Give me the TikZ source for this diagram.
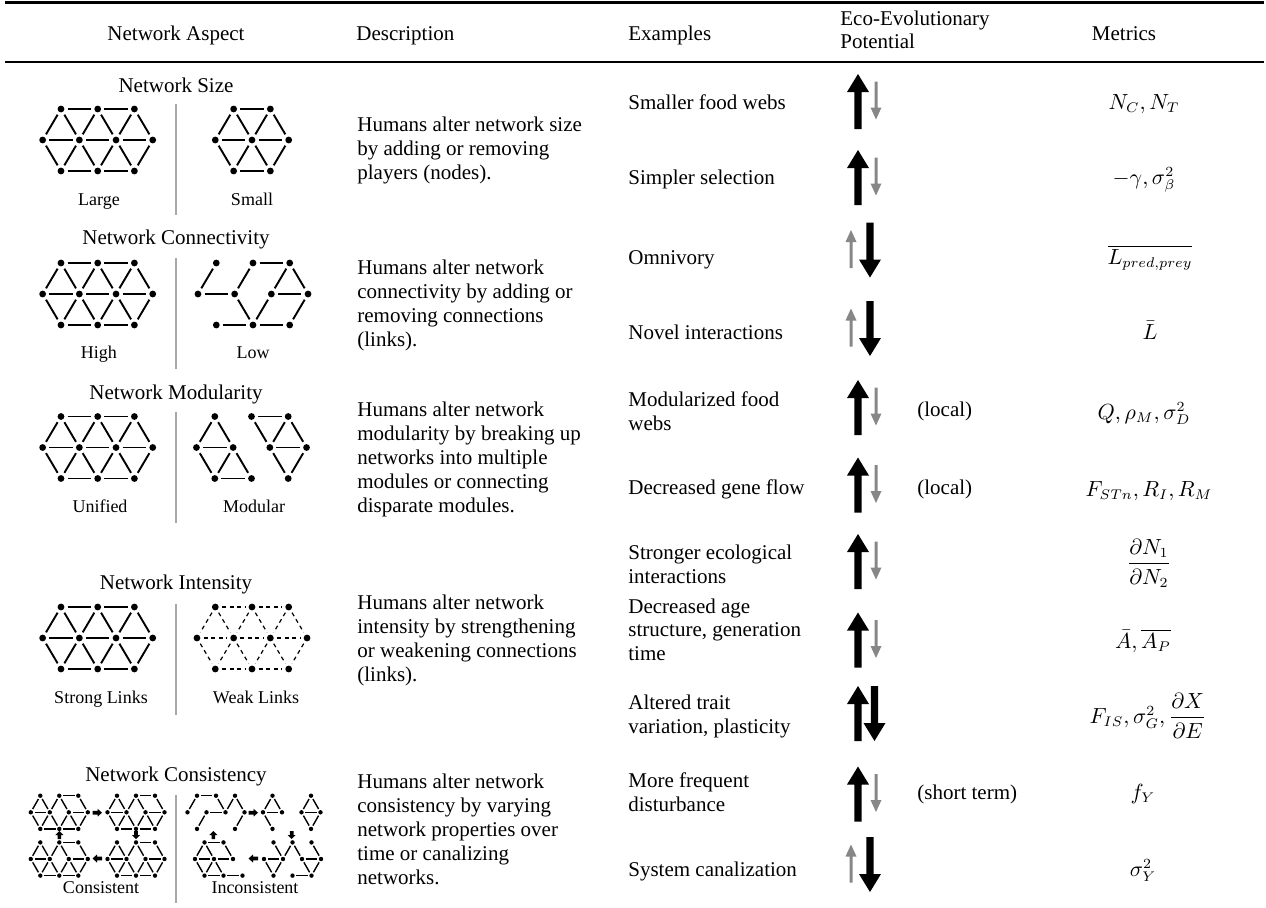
\documentclass[tikz,border=0pt]{standalone}
\usepackage{amsmath}
\usepackage{fontspec}
\setmainfont{Liberation Serif}
\definecolor{sepgray}{RGB}{168,168,168}
\definecolor{arrgray}{RGB}{135,135,135}

\newcommand\lattice[6]{%
  \foreach \id/\dx/\dy in {t1/-1/-1,t2/0/-1,t3/1/-1,m1/-1.5/0,m2/-0.5/0,m3/0.5/0,m4/1.5/0,b1/-1/1,b2/0/1,b3/1/1}{%
    \coordinate (#1-c-\id) at ({#2+\dx*#4},{#3+\dy*#5});}%
  \foreach \id in {#6}{\node[ndot] (#1-\id) at (#1-c-\id) {};}%
}
\newcommand\links[3]{\foreach \a/\b in {#3}{\draw[#2] (#1-\a) -- (#1-\b);}}
\newcommand\fulllinks[2]{\links{#1}{#2}{t1/t2,t2/t3,m1/m2,m2/m3,m3/m4,b1/b2,b2/b3,t1/m1,t1/m2,t2/m2,t2/m3,t3/m3,t3/m4,m1/b1,m2/b1,m2/b2,m3/b2,m3/b3,m4/b3}}
\newcommand\barrow[9]{%
  \coordinate (#1) at (#2,#3);
  \begin{scope}[shift={(#1)},rotate=#4]
    \fill[#9] (0,-#6) -- ({#5-#8},-#6) -- ({#5-#8},-#7) -- (#5,0) -- ({#5-#8},#7) -- ({#5-#8},#6) -- (0,#6) -- cycle;
  \end{scope}}

\begin{document}
\begin{tikzpicture}[x=0.5pt, y=-0.5pt,
  every node/.style={font=\fontsize{10.5}{12}\selectfont, inner sep=0pt},
  ndot/.style={circle, fill=black, inner sep=0pt, minimum size=3.4pt},
  lnk/.style={line width=0.95pt, shorten >=1.4pt, shorten <=1.4pt},
  wlnk/.style={line width=0.6pt, dash pattern=on 2pt off 1.8pt, shorten >=1.4pt, shorten <=1.4pt},
  mlnk/.style={line width=0.7pt, shorten >=0.6pt, shorten <=0.6pt},
  sepline/.style={line width=0.8pt, draw=sepgray},
  rulel/.style={line width=1.4pt},
  txt/.style={anchor=base west},
  lab/.style={anchor=base, font=\fontsize{9}{11}\selectfont},
  ttl/.style={anchor=base},
  met/.style={anchor=base},
]
\useasboundingbox (0,0) rectangle (1266,907);

% rules
\coordinate (r1a) at (5,2.5); \coordinate (r1b) at (1264,2.5);
\coordinate (r2a) at (5,62); \coordinate (r2b) at (1264,62);
\draw[rulel] (r1a) -- (r1b);
\draw[rulel] (r2a) -- (r2b);

% header
\node[ttl] (hAspect) at (176,40) {Network Aspect};
\node[txt] (hDesc) at (356,40) {Description};
\node[txt] (hEx) at (628,40) {Examples};
\node[txt] (hEco1) at (840,25) {Eco-Evolutionary};
\node[txt] (hEco2) at (840,48) {Potential};
\node[ttl] (hMet) at (1124,40) {Metrics};

% ---------- left column: titles, labels, separators
\node[ttl] (tSize) at (176,92) {Network Size};
\node[ttl] (tConn) at (176,244) {Network Connectivity};
\node[ttl] (tMod) at (176,399) {Network Modularity};
\node[ttl] (tInt) at (176,589) {Network Intensity};
\node[ttl] (tCons) at (176,781) {Network Consistency};

\node[lab] (lLarge) at (99,205) {Large};
\node[lab] (lSmall) at (252,205) {Small};
\node[lab] (lHigh) at (99,358) {High};
\node[lab] (lLow) at (253,358) {Low};
\node[lab] (lUni) at (100,512) {Unified};
\node[lab] (lModu) at (254,512) {Modular};
\node[lab] (lStrong) at (101,703) {Strong Links};
\node[lab] (lWeak) at (256,703) {Weak Links};
\node[lab] (lCons) at (101,893) {Consistent};
\node[lab] (lIncons) at (255,893) {Inconsistent};

\foreach \n/\ya/\yb in {s1/104/215, s2/258/369, s3/412/523, s4/604/715, s5/795/903}{
  \coordinate (\n a) at (176,\ya); \coordinate (\n b) at (176,\yb);
  \draw[sepline] (\n a) -- (\n b);}

% ---------- graphs
\lattice{szL}{97.7}{140}{36.7}{31}{t1,t2,t3,m1,m2,m3,m4,b1,b2,b3}
\fulllinks{szL}{lnk}
\lattice{szR}{270.35}{140}{36.7}{31}{t1,t2,m1,m2,m3,b1,b2}
\links{szR}{lnk}{t1/t2,m1/m2,m2/m3,b1/b2,t1/m1,t1/m2,t2/m2,t2/m3,m1/b1,m2/b1,m2/b2,m3/b2}

\lattice{cnL}{97.7}{294}{36.7}{31}{t1,t2,t3,m1,m2,m3,m4,b1,b2,b3}
\fulllinks{cnL}{lnk}
\lattice{cnR}{253}{294}{36.7}{31}{t1,t2,t3,m1,m2,m3,m4,b1,b2,b3}
\links{cnR}{lnk}{t2/t3,m1/m2,m3/m4,b1/b2,b2/b3,t1/m1,t2/m2,t3/m3,t3/m4,m2/b2,m3/b2,m4/b3}

\lattice{mdL}{97.7}{447.5}{36.7}{31}{t1,t2,t3,m1,m2,m3,m4,b1,b2,b3}
\fulllinks{mdL}{lnk}
\lattice{mdR}{251.5}{447.5}{36.7}{31}{t1,t2,t3,m1,m2,m3,m4,b1,b2,b3}
\links{mdR}{lnk}{t2/t3,m1/m2,m3/m4,b1/b2,t1/m1,t1/m2,t2/m3,t3/m3,t3/m4,m1/b1,m2/b1,m2/b2,m3/b3,m4/b3}

\lattice{inL}{97.7}{638}{36.7}{31}{t1,t2,t3,m1,m2,m3,m4,b1,b2,b3}
\fulllinks{inL}{lnk}
\lattice{inR}{252}{638}{36.7}{31}{t1,t2,t3,m1,m2,m3,m4,b1,b2,b3}
\fulllinks{inR}{wlnk}

% consistency mini graphs
\begin{scope}[ndot/.style={circle, fill=black, inner sep=0pt, minimum size=2.2pt}]
\foreach \g/\cx/\cy in {cTL/59.3/812.3, cTR/136/812.3, cBL/59.3/859, cBR/136/859}{
  \lattice{\g}{\cx}{\cy}{19}{16.6}{t1,t2,t3,m1,m2,m3,m4,b1,b2,b3}
  \links{\g}{mlnk}{t2/t3,m1/m2,m3/m4,b1/b2,b2/b3,t1/m1,t1/m2,t2/m2,t2/m3,t3/m4,m1/b1,m2/b1,m2/b2,m3/b2,m3/b3,m4/b3}
}
\lattice{iTL}{216}{812.3}{19}{16.6}{t1,t2,t3,m1,m2,m3,m4,b1,b3}
\links{iTL}{mlnk}{t1/t2,t1/m1,t2/m3,t3/m3,t3/m4,m2/m3,m2/b1,m4/b3}
\lattice{iTRa}{272.5}{812.3}{19}{16.6}{t2,m2,m3,b2}
\links{iTRa}{mlnk}{t2/m2,t2/m3,m2/m3,m2/b2}
\lattice{iTRb}{311}{812.3}{19}{16.6}{t2,m2,m3,b2}
\links{iTRb}{mlnk}{t2/m2,t2/m3,m2/m3,m2/b2,m3/b2}
\lattice{iBR}{292.5}{859}{19}{16.6}{t1,t2,t3,m1,m2,m3,m4,b1,b2,b3}
\links{iBR}{mlnk}{t1/m2,t2/m2,t2/m3,t3/m4,m1/m2,m3/m4,m1/b1,m2/b1,m3/b3,m4/b3,b2/b3}
\lattice{iBL}{223.5}{859}{19}{16.6}{t1,t2,m1,m2,m3,b1,b2,b3}
\links{iBL}{mlnk}{t1/t2,t1/m1,t1/m2,t2/m3,m1/m2,m2/m3,m1/b1,m2/b1,m2/b2,b1/b2,b2/b3}
\end{scope}

% mini arrows
\barrow{ka}{92.5}{812.7}{0}{9.5}{1.8}{4}{4.5}{black}
\barrow{kb}{136}{831}{-90}{8}{1.8}{4}{4}{black}
\barrow{kc}{102}{858.5}{180}{9.5}{1.8}{4}{4.5}{black}
\barrow{kd}{59.3}{839}{90}{8}{1.8}{4}{4}{black}
\barrow{ke}{248.5}{812.7}{0}{9.5}{1.8}{4}{4.5}{black}
\barrow{kf}{291.7}{831}{-90}{8}{1.8}{4}{4}{black}
\barrow{kg}{258}{858.5}{180}{9.5}{1.8}{4}{4.5}{black}
\barrow{kh}{213.3}{839}{90}{8}{1.8}{4}{4}{black}

% ---------- descriptions
\foreach \t [count=\i] in {Humans alter network size, by adding or removing, players (nodes).}
  \node[txt] (dsz\i) at (357,{107+24*\i}) {\t};
\foreach \t [count=\i] in {Humans alter network, connectivity by adding or, removing connections, (links).}
  \node[txt] (dcn\i) at (357,{250+24*\i}) {\t};
\foreach \t [count=\i] in {Humans alter network, modularity by breaking up, networks into multiple, modules or connecting, disparate modules.}
  \node[txt] (dmd\i) at (357,{392+24*\i}) {\t};
\foreach \t [count=\i] in {Humans alter network, intensity by strengthening, or weakening connections, (links).}
  \node[txt] (din\i) at (357,{585+24*\i}) {\t};
\foreach \t [count=\i] in {Humans alter network, consistency by varying, network properties over, time or canalizing, networks.}
  \node[txt] (dcs\i) at (357,{764+24*\i}) {\t};

% ---------- examples
\node[txt] (e1) at (628,109) {Smaller food webs};
\node[txt] (e2) at (628,184) {Simpler selection};
\node[txt] (e3) at (628,264) {Omnivory};
\node[txt] (e4) at (628,339) {Novel interactions};
\node[txt] (e5a) at (628,406) {Modularized food};
\node[txt] (e5b) at (628,430) {webs};
\node[txt] (e6) at (628,494) {Decreased gene flow};
\node[txt] (e7a) at (628,559) {Stronger ecological};
\node[txt] (e7b) at (628,583) {interactions};
\node[txt] (e8a) at (628,613) {Decreased age};
\node[txt] (e8b) at (628,636) {structure, generation};
\node[txt] (e8c) at (628,660) {time};
\node[txt] (e9a) at (628,709) {Altered trait};
\node[txt] (e9b) at (628,733) {variation, plasticity};
\node[txt] (e10a) at (628,787) {More frequent};
\node[txt] (e10b) at (628,811) {disturbance};
\node[txt] (e11) at (628,876) {System canalization};

\node[txt] (q1) at (917,416) {(local)};
\node[txt] (q2) at (917,494) {(local)};
\node[txt] (q3) at (917,799) {(short term)};

% ---------- eco-evolutionary arrows
% up-black / down-gray
\foreach \n/\cb in {1/101.5, 2/177.5, 5/407.5, 6/485, 7/561.5, 8/640, 10/794}{
  \barrow{ab\n}{858}{\cb+27.5}{90}{55}{3.6}{11}{18}{black}
  \barrow{ag\n}{876}{\cb-20}{-90}{38}{1.5}{5.5}{12}{arrgray}
}
% up-gray / down-black
\foreach \n/\cb in {3/250, 4/328.5, 11/864.5}{
  \barrow{ab\n}{870}{\cb-27.5}{-90}{55}{3.6}{11}{18}{black}
  \barrow{ag\n}{851}{\cb+18}{90}{38}{1.5}{5.5}{12}{arrgray}
}
% both black
\barrow{ab9u}{858}{741}{90}{55}{3.6}{11}{18}{black}
\barrow{ab9d}{874.5}{686}{-90}{55}{3.6}{11}{18}{black}

% ---------- metrics
\node[met] (m1) at (1144,109) {$N_C, N_T$};
\node[met] (m2) at (1144,184) {$-\gamma, \sigma_\beta^2$};
\node[met] (m3) at (1150,264) {$\overline{L_{pred,prey}}$};
\node[met] (m4) at (1150,339) {$\bar{L}$};
\node[met] (m5) at (1144,419) {$Q, \rho_M, \sigma_D^2$};
\node[met] (m6) at (1149,496) {$F_{STn}, R_I, R_M$};
\node[met] (m7) at (1149,569) {$\dfrac{\partial N_1}{\partial N_2}$};
\node[met] (m8) at (1143,648) {$\bar{A}, \overline{A_P}$};
\node[met] (m9) at (1148,723) {$F_{IS}, \sigma_G^2, \dfrac{\partial X}{\partial E}$};
\node[met] (m10) at (1143,799) {$f_Y$};
\node[met] (m11) at (1143,876) {$\sigma_Y^2$};
\end{tikzpicture}
\end{document}
